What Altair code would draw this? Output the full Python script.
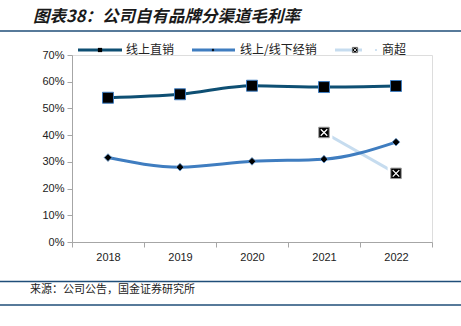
import altair as alt
import pandas as pd

years = ["2018", "2019", "2020", "2021", "2022"]
series = ["线上直销", "线上/线下经销", "商超"]
direct = [0.540, 0.553, 0.585, 0.580, 0.584]
dist = [0.316, 0.280, 0.302, 0.310, 0.374]
supermkt = [None, None, None, 0.410, 0.257]
colors = ["#0e4f73", "#3f7dc0", "#c6dcef"]
y_ticks = [0, 0.1, 0.2, 0.3, 0.4, 0.5, 0.6, 0.7]
title_text = "图表38：公司自有品牌分渠道毛利率"
source_text = "来源：公司公告，国金证券研究所"

rows = []
for s, vals in zip(series, [direct, dist, supermkt]):
    for yr, v in zip(years, vals):
        if v is not None:
            rows.append({"year": yr, "series": s, "value": v})
df = pd.DataFrame(rows)

LAT = "Liberation Sans"
CJK = "Noto Sans CJK SC"

x = alt.X("year:O", sort=years,
          scale=alt.Scale(type="band", paddingInner=0, paddingOuter=0),
          bandPosition=0.5,
          axis=alt.Axis(title=None, labelAngle=0, tickBand="extent",
                        domainColor="#a6a6a6", tickColor="#a6a6a6", tickSize=5,
                        labelFont=LAT, labelFontSize=11, labelColor="#222",
                        labelPadding=4))
y = alt.Y("value:Q", scale=alt.Scale(domain=[0, 0.7]),
          axis=alt.Axis(title=None, format=".0%", values=y_ticks, grid=False,
                        domainColor="#a6a6a6", tickColor="#a6a6a6", tickSize=5,
                        labelFont=LAT, labelFontSize=11, labelColor="#222",
                        labelPadding=3))
color = alt.Color("series:N", scale=alt.Scale(domain=series, range=colors), legend=None)

base = alt.Chart(df)
sm_base = base.transform_filter(alt.datum.series == series[2])
sm_line = sm_base.mark_line(strokeWidth=3, color=colors[2]).encode(x=x, y=y)
sm_halo = sm_base.mark_point(shape="square", filled=True, size=280, color="white",
                             opacity=1).encode(x=x, y=y)
lines = base.transform_filter(alt.datum.series != series[2]).mark_line(
    strokeWidth=3, interpolate="monotone").encode(x=x, y=y, color=color)

sq = base.transform_filter(alt.datum.series == series[0]).mark_point(
    shape="square", filled=True, size=120, color="black", stroke="#3f7dc0",
    strokeWidth=1, opacity=1).encode(x=x, y=y)
dia = base.transform_filter(alt.datum.series == series[1]).mark_point(
    shape="diamond", filled=True, size=60, color="black", stroke="#6a9fd8",
    strokeWidth=0.8, opacity=1).encode(x=x, y=y)
sm = sm_base.mark_point(
    shape="square", filled=True, size=110, color="black", stroke="#9a9a9a",
    strokeWidth=1, opacity=1).encode(x=x, y=y)
smx = sm_base.mark_point(
    shape="M-0.65,-0.65L0.65,0.65M-0.65,0.65L0.65,-0.65", filled=False, size=100,
    stroke="white", strokeWidth=1.3, opacity=1).encode(x=x, y=y)

one = pd.DataFrame({"k": [0]})
c1 = alt.Chart(one)

def hrule(yv, w=1.5):
    return c1.mark_rule(color="#1f4e79", strokeWidth=w).encode(
        x=alt.value(-72), x2=alt.value(389), y=alt.value(yv))

def text(t, xv, yv, size, **kw):
    return c1.mark_text(text=t, align="left", baseline="middle", fontSize=size, **kw).encode(
        x=alt.value(xv), y=alt.value(yv))

title = text(title_text, -39, -38, 16.5, font=CJK, fontWeight="bold", fontStyle="italic", color="#1a1a1a")
source = text(source_text, -42, 235, 11, font=CJK, color="#222")

ly = -5
leg = [
    c1.mark_rule(color=colors[0], strokeWidth=3).encode(x=alt.value(6), x2=alt.value(50), y=alt.value(ly)),
    c1.mark_point(shape="square", filled=True, size=18, color="black", opacity=1).encode(x=alt.value(28), y=alt.value(ly)),
    text(series[0], 54, ly, 12, font=CJK, color="#222"),
    c1.mark_rule(color=colors[1], strokeWidth=3).encode(x=alt.value(120), x2=alt.value(163), y=alt.value(ly)),
    c1.mark_point(shape="diamond", filled=True, size=8, color="black", opacity=1).encode(x=alt.value(141), y=alt.value(ly)),
    text(series[1], 168, ly, 12, font=CJK, color="#222"),
    c1.mark_rule(color=colors[2], strokeWidth=3).encode(x=alt.value(263), x2=alt.value(290), y=alt.value(ly)),
    c1.mark_point(shape="square", filled=True, size=30, color="black", stroke="#9a9a9a", strokeWidth=0.6, opacity=1).encode(x=alt.value(283), y=alt.value(ly)),
    c1.mark_point(shape="M-0.65,-0.65L0.65,0.65M-0.65,0.65L0.65,-0.65", filled=False, size=30, stroke="white", strokeWidth=0.8, opacity=1).encode(x=alt.value(283), y=alt.value(ly)),
    c1.mark_point(shape="circle", filled=True, size=5, color=colors[2], opacity=1).encode(x=alt.value(304), y=alt.value(ly)),
    text(series[2], 310, ly, 12, font=CJK, color="#222"),
]

chart = alt.layer(
    sm_line, sm_halo, lines, sq, dia, sm, smx,
    hrule(-24), hrule(226.5), hrule(250),
    title, source, *leg
).properties(
    width=360, height=187,
    autosize=alt.AutoSizeParams(type="none"),
    padding={"left": 72, "top": 55, "right": 29, "bottom": 84},
).configure_view(stroke=None).configure(background="white")

chart.save("out.html", embed_options={"renderer": "svg", "actions": False})
